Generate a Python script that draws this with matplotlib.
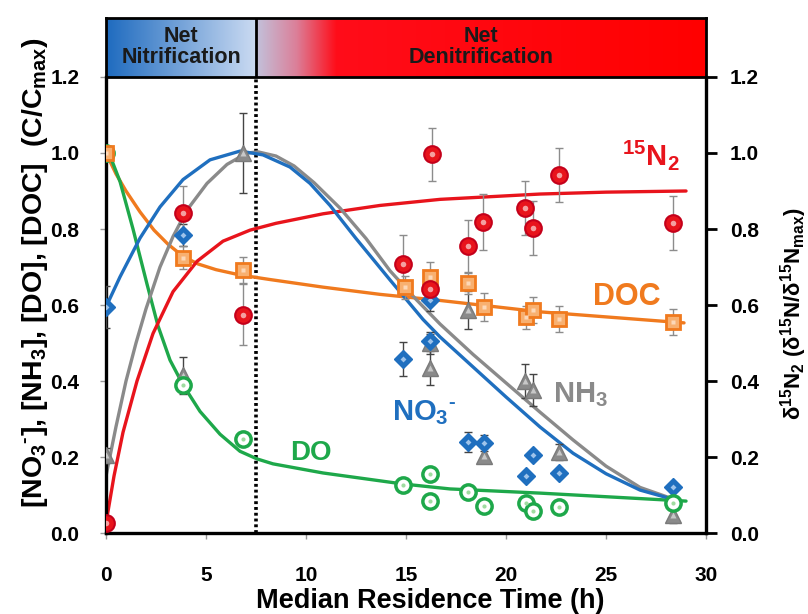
import numpy as np
import matplotlib
matplotlib.use('Agg')
import matplotlib.pyplot as plt

plt.rcParams['font.family'] = ['Liberation Sans', 'DejaVu Sans']
plt.rcParams['font.weight'] = 'bold'
plt.rcParams['axes.labelweight'] = 'bold'
plt.rcParams['mathtext.fontset'] = 'custom'
plt.rcParams['mathtext.rm'] = 'Liberation Sans:bold'
plt.rcParams['mathtext.bf'] = 'Liberation Sans:bold'
plt.rcParams['mathtext.it'] = 'Liberation Sans:bold'
plt.rcParams['mathtext.default'] = 'bf'

# measured points (C/Cmax)
n2_x = [0, 3.85, 6.85, 14.85, 16.3, 16.2, 18.1, 18.85, 20.95, 21.35, 22.65, 28.35]
n2_y = [0.026, 0.842, 0.574, 0.708, 0.997, 0.642, 0.755, 0.818, 0.855, 0.803, 0.942, 0.816]
n2_err = [0.0, 0.07, 0.08, 0.075, 0.07, 0.03, 0.07, 0.073, 0.07, 0.072, 0.072, 0.072]

doc_x = [0, 3.85, 6.85, 14.95, 16.2, 18.1, 18.9, 21.0, 21.35, 22.65, 28.35]
doc_y = [1.0, 0.724, 0.692, 0.647, 0.674, 0.658, 0.595, 0.568, 0.587, 0.563, 0.555]
doc_err = [0.0, 0.03, 0.035, 0.03, 0.04, 0.03, 0.037, 0.03, 0.035, 0.035, 0.034]

no3_x = [0, 3.85, 14.85, 16.2, 16.2, 18.1, 18.9, 21.0, 21.35, 22.65, 28.35]
no3_y = [0.595, 0.784, 0.457, 0.613, 0.505, 0.24, 0.237, 0.15, 0.205, 0.158, 0.121]
no3_err = [0.056, 0.03, 0.045, 0.03, 0.02, 0.027, 0.02, 0.01, 0.01, 0.01, 0.01]

nh3_x = [0, 3.85, 6.85, 16.2, 16.2, 18.1, 18.9, 20.95, 21.35, 22.65, 28.35]
nh3_y = [0.205, 0.415, 1.0, 0.50, 0.434, 0.587, 0.203, 0.40, 0.376, 0.213, 0.047]
nh3_err = [0.02, 0.048, 0.105, 0.03, 0.044, 0.05, 0.02, 0.045, 0.042, 0.02, 0.02]

do_x = [0, 3.85, 6.85, 14.85, 16.2, 16.2, 18.1, 18.9, 21.0, 21.35, 22.65, 28.35]
do_y = [1.0, 0.39, 0.247, 0.126, 0.155, 0.084, 0.108, 0.071, 0.079, 0.058, 0.068, 0.079]

# model curves
no3_fit_x = [0, 0.7, 1.7, 2.7, 3.85, 5.2, 6.7, 7.85, 9.2, 10.2, 11.2, 12.5, 14.2, 15.85,
             16.7, 18.35, 20.0, 21.7, 23.35, 25.0, 26.7, 28.6]
no3_fit_y = [0.595, 0.674, 0.776, 0.858, 0.93, 0.982, 1.005, 0.995, 0.963, 0.92, 0.862,
             0.775, 0.666, 0.562, 0.516, 0.437, 0.358, 0.279, 0.21, 0.156, 0.113, 0.085]

nh3_fit_x = [0, 0.5, 1.0, 1.5, 2.0, 2.7, 3.35, 4.05, 5.05, 6.05, 7.05, 7.6, 8.5, 9.4, 10.4,
             11.7, 13.0, 14.2, 15.5, 16.7, 18.35, 20.0, 21.7, 23.35, 25.0, 26.7, 28.6]
nh3_fit_y = [0.15, 0.28, 0.40, 0.50, 0.59, 0.70, 0.78, 0.85, 0.92, 0.97, 1.0, 1.003, 0.992,
             0.966, 0.922, 0.855, 0.775, 0.69, 0.615, 0.55, 0.47, 0.395, 0.318, 0.245,
             0.176, 0.12, 0.085]

n2_fit_x = [0, 0.4, 0.85, 1.55, 2.35, 3.35, 4.55, 5.85, 7.2, 8.5, 10.85, 13.7, 16.7, 21.7,
            25.0, 29.0]
n2_fit_y = [0.026, 0.15, 0.265, 0.40, 0.525, 0.635, 0.715, 0.768, 0.797, 0.815, 0.84, 0.862,
            0.878, 0.892, 0.897, 0.9]

do_fit_x = [0, 0.7, 1.35, 2.05, 2.6, 3.2, 3.85, 4.7, 5.7, 6.7, 7.55, 8.35, 10.85, 14.85,
            17.2, 21.7, 29.0]
do_fit_y = [1.02, 0.925, 0.8, 0.655, 0.545, 0.455, 0.39, 0.32, 0.26, 0.215, 0.195, 0.182,
            0.158, 0.129, 0.116, 0.105, 0.084]

doc_fit_x = [0, 0.5, 1.0, 1.7, 2.4, 3.1, 3.85, 4.6, 5.5, 6.7, 8.2, 10.85, 13.7, 16.7, 21.7,
             28.9]
doc_fit_y = [1.0, 0.945, 0.9, 0.845, 0.797, 0.76, 0.728, 0.708, 0.693, 0.679, 0.667, 0.647,
             0.628, 0.612, 0.582, 0.553]

x_ticks = [0, 5, 10, 15, 20, 25, 30]
y_ticks = [0.0, 0.2, 0.4, 0.6, 0.8, 1.0, 1.2]
boundary = 7.5

red = '#e8141c'
orange = '#f07a1e'
blue = '#1f6fbf'
gray = '#8a8a8a'
green = '#1ea84a'

fig = plt.figure(figsize=(8.08, 6.14), dpi=100)
ax = fig.add_axes([0.1312, 0.1319, 0.7426, 0.7427])

ax.axvline(boundary, color='k', ls=(0, (0.8, 0.8)), lw=2.6, zorder=1)

for fx, fy, c in [(doc_fit_x, doc_fit_y, orange), (do_fit_x, do_fit_y, green),
                  (n2_fit_x, n2_fit_y, red), (nh3_fit_x, nh3_fit_y, gray),
                  (no3_fit_x, no3_fit_y, blue)]:
    ax.plot(fx, fy, color=c, lw=2.4, solid_capstyle='round', solid_joinstyle='round', zorder=2)

# markers with error bars
ax.errorbar(nh3_x, nh3_y, yerr=nh3_err, fmt='none', ecolor='#444444', elinewidth=1, capsize=3, zorder=3)
ax.plot(nh3_x, nh3_y, '^', ms=11, mfc=gray, mec='#7a7a7a', mew=1, zorder=4)
ax.plot(nh3_x, nh3_y, '^', ms=4, mfc='#c8c8c8', mec='none', zorder=4)

ax.errorbar(no3_x, no3_y, yerr=no3_err, fmt='none', ecolor='#444444', elinewidth=1, capsize=3, zorder=3)
ax.plot(no3_x, no3_y, 'D', ms=9, mfc=blue, mec=blue, mew=1, zorder=5)
ax.plot(no3_x, no3_y, 'D', ms=3, mfc='#9ec3ea', mec='none', zorder=5)

ax.plot(do_x, do_y, 'o', ms=11, mfc='white', mec=green, mew=2.5, zorder=5)
ax.plot(do_x, do_y, 'o', ms=3, mfc='#a0dca0', mec='none', zorder=5)

ax.errorbar(doc_x, doc_y, yerr=doc_err, fmt='none', ecolor='#8c8c8c', elinewidth=1, capsize=3, zorder=3)
ax.plot(doc_x, doc_y, 's', ms=10, mfc='#f8b070', mec=orange, mew=2, zorder=6)
ax.plot(doc_x, doc_y, 's', ms=3.5, mfc='#fcd8b8', mec='none', zorder=6)

ax.errorbar(n2_x, n2_y, yerr=n2_err, fmt='none', ecolor='#8c8c8c', elinewidth=1, capsize=3, zorder=3)
ax.plot(n2_x, n2_y, 'o', ms=12, mfc=red, mec='#c4001a', mew=1.5, zorder=7)
ax.plot(n2_x, n2_y, 'o', ms=4, mfc='#f4a0a0', mec='none', zorder=7)

# series labels
ax.text(25.8, 0.968, r'$^{15}$N$_2$', color=red, fontsize=21)
ax.text(24.35, 0.60, 'DOC', color=orange, fontsize=22)
ax.text(14.3, 0.297, r'NO$_3$$^{\text{-}}$', color=blue, fontsize=21)
ax.text(22.35, 0.345, r'NH$_3$', color=gray, fontsize=21)
ax.text(9.2, 0.192, 'DO', color=green, fontsize=20)

ax.set_xlim(0, 30)
ax.set_ylim(0, 1.2)
ax.set_xticks(x_ticks)
ax.set_yticks(y_ticks)
ax.set_yticklabels(['%.1f' % v for v in y_ticks])
ax.tick_params(axis='both', direction='out', length=4, width=1, color='#999999',
               labelsize=15, pad=15)
ax.tick_params(axis='x', pad=20)
for s in ['left', 'bottom']:
    ax.spines[s].set_linewidth(2.4)
ax.spines['right'].set_visible(False)
ax.spines['top'].set_linewidth(0.8)
ax.spines['top'].set_color('#999999')

ax.set_xlabel('Median Residence Time (h)', fontsize=19.5)
ax.xaxis.set_label_coords(0.54, -0.12)
ax.set_ylabel(r'[NO$_3$$^{\text{-}}$], [NH$_3$], [DO], [DOC]  (C/C$_{max}$)', fontsize=20.5)
ax.yaxis.set_label_coords(-0.094, 0.57)

ax2 = ax.twinx()
ax2.set_ylim(0, 1.2)
ax2.set_yticks(y_ticks)
ax2.set_yticklabels(['%.1f' % v for v in y_ticks])
ax2.tick_params(axis='y', direction='out', length=8, width=2, color='k', labelsize=15, pad=9)
ax2.spines['right'].set_linewidth(2.4)
for s in ['left', 'top', 'bottom']:
    ax2.spines[s].set_visible(False)
ax2.set_ylabel(r'δ$^{15}$N$_2$ (δ$^{15}$N/δ$^{15}$N$_{max}$)', fontsize=16)
ax2.yaxis.set_label_coords(1.12, 0.48)

# banner
bx = fig.add_axes([0.1312, 0.8746, 0.7426, 0.0961])
t = np.linspace(0, 1, 200)
left_rgb = np.stack([np.interp(t, [0, 1], [0.12, 0.80]),
                     np.interp(t, [0, 1], [0.42, 0.86]),
                     np.interp(t, [0, 1], [0.75, 0.95])], axis=1)
u = np.linspace(boundary, 30, 600)
right_rgb = np.stack([np.interp(u, [7.5, 9.5, 11.5, 30], [0.76, 0.86, 1.0, 1.0]),
                      np.interp(u, [7.5, 9.5, 11.5, 30], [0.76, 0.50, 0.05, 0.0]),
                      np.interp(u, [7.5, 9.5, 11.5, 30], [0.86, 0.60, 0.10, 0.0])], axis=1)
bx.imshow(left_rgb[None, :, :], extent=[0, boundary, 0, 1], aspect='auto')
bx.imshow(right_rgb[None, :, :], extent=[boundary, 30, 0, 1], aspect='auto')
bx.axvline(boundary, color='k', lw=2)
bx.set_xlim(0, 30)
bx.set_ylim(0, 1)
bx.set_xticks([])
bx.set_yticks([])
for s in bx.spines.values():
    s.set_linewidth(2)
bx.text(boundary / 2, 0.5, 'Net\nNitrification', ha='center', va='center',
        fontsize=15.5, color='#1a1a1a', linespacing=1.0)
bx.text((boundary + 30) / 2, 0.5, 'Net\nDenitrification', ha='center', va='center',
        fontsize=15.5, color='#1a1a1a', linespacing=1.0)

fig.savefig('out.png', dpi=100)
